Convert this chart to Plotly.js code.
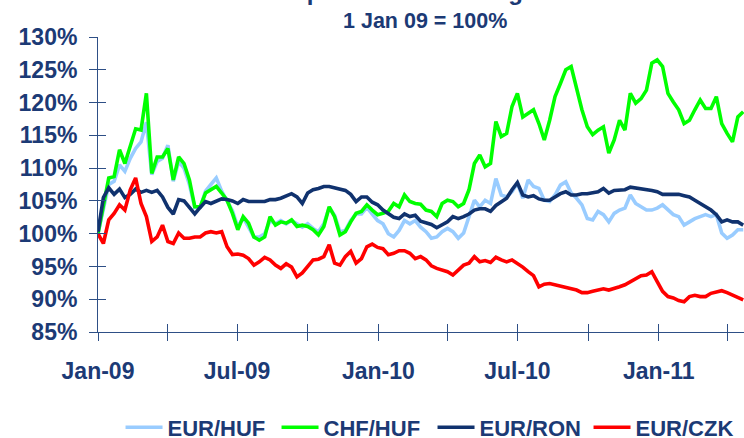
<!DOCTYPE html>
<html>
<head>
<meta charset="utf-8">
<script src="https://cdn.plot.ly/plotly-3.0.1.min.js"></script>
<style>html,body{margin:0;padding:0;background:#fff;}#chart{width:744px;height:438px;}</style>
</head>
<body>
<div id="chart"></div>
<script>
// Weekly observation dates (1 Jan 2009 = 100%)
const dates = [
'2009-01-01','2009-01-08','2009-01-15','2009-01-22','2009-01-29','2009-02-05','2009-02-12','2009-02-19','2009-02-26','2009-03-05',
'2009-03-12','2009-03-19','2009-03-26','2009-04-02','2009-04-09','2009-04-16','2009-04-23','2009-04-30','2009-05-07','2009-05-14',
'2009-05-21','2009-05-28','2009-06-04','2009-06-11','2009-06-18','2009-06-25','2009-07-02','2009-07-09','2009-07-16','2009-07-23',
'2009-07-30','2009-08-06','2009-08-13','2009-08-20','2009-08-27','2009-09-03','2009-09-10','2009-09-17','2009-09-24','2009-10-01',
'2009-10-08','2009-10-15','2009-10-22','2009-10-29','2009-11-05','2009-11-12','2009-11-19','2009-11-26','2009-12-03','2009-12-10',
'2009-12-17','2009-12-24','2009-12-31','2010-01-07','2010-01-14','2010-01-21','2010-01-28','2010-02-04','2010-02-11','2010-02-18',
'2010-02-25','2010-03-04','2010-03-11','2010-03-18','2010-03-25','2010-04-01','2010-04-08','2010-04-15','2010-04-22','2010-04-29',
'2010-05-06','2010-05-13','2010-05-20','2010-05-27','2010-06-03','2010-06-10','2010-06-17','2010-06-24','2010-07-01','2010-07-08',
'2010-07-15','2010-07-22','2010-07-29','2010-08-05','2010-08-12','2010-08-19','2010-08-26','2010-09-02','2010-09-09','2010-09-16',
'2010-09-23','2010-09-30','2010-10-07','2010-10-14','2010-10-21','2010-10-28','2010-11-04','2010-11-11','2010-11-18','2010-11-25',
'2010-12-02','2010-12-09','2010-12-16','2010-12-23','2010-12-30','2011-01-06','2011-01-13','2011-01-20','2011-01-27','2011-02-03',
'2011-02-10','2011-02-17','2011-02-24','2011-03-03','2011-03-10','2011-03-17','2011-03-24','2011-03-31','2011-04-07','2011-04-14',
'2011-04-21'];

const eurHuf = [
100.0,104.0,107.5,108.0,110.5,109.5,111.5,113.0,114.0,117.0,
109.0,111.0,111.5,113.5,108.0,111.0,110.0,107.5,104.0,104.0,
106.5,107.5,108.5,106.5,105.0,103.5,101.0,102.5,101.0,99.5,
99.5,100.0,102.0,101.5,102.0,101.5,102.0,101.5,101.0,101.5,
100.8,100.3,101.5,104.0,102.8,100.3,100.5,102.0,103.0,103.0,
104.0,103.0,102.0,101.5,100.0,99.5,100.5,102.0,101.5,102.0,
101.0,100.3,99.3,99.5,100.3,100.8,100.3,99.3,100.1,102.6,
105.1,104.1,105.1,104.6,108.4,105.9,105.6,106.4,107.7,105.4,
108.2,107.2,106.9,105.1,104.9,105.9,107.4,107.9,106.2,105.4,
104.4,102.3,102.1,103.4,102.9,101.8,103.1,103.6,103.9,105.9,
104.6,104.1,103.6,103.6,103.9,104.4,103.6,102.9,102.6,101.3,
101.8,102.3,102.6,102.9,102.6,102.9,100.1,99.3,99.8,100.6,
100.6];

const chfHuf = [
100.0,104.5,108.5,108.7,112.8,110.7,113.3,116.0,115.8,121.4,
109.2,111.7,111.7,113.0,108.2,111.7,110.7,108.2,104.1,104.1,
106.2,106.7,107.2,106.2,105.1,103.1,100.6,102.6,101.6,99.5,
99.0,99.5,102.6,101.3,101.8,101.6,102.1,101.1,101.3,101.1,
100.6,99.8,101.1,104.1,102.6,99.8,100.3,101.8,103.1,103.4,
104.4,103.6,102.9,103.1,103.4,104.6,104.1,105.9,104.9,104.6,
104.5,103.6,103.4,102.6,104.6,105.1,104.9,104.1,104.6,106.7,
110.7,112.0,110.2,110.7,117.1,114.8,115.3,119.4,121.4,117.8,
118.4,118.9,116.8,114.3,117.3,120.9,122.9,125.0,125.5,121.9,
118.9,116.3,115.1,115.8,116.3,112.3,114.3,117.3,115.8,121.4,
119.9,120.6,121.9,126.0,126.5,125.5,121.4,120.1,118.9,116.8,
117.3,118.9,120.4,119.1,119.1,120.9,116.8,115.3,114.0,117.8,
118.6];

const eurRon = [
100.3,105.5,107.0,106.0,106.8,105.5,106.0,106.8,106.3,106.6,
106.3,106.6,105.6,104.0,103.0,105.2,105.0,104.1,103.0,104.0,
104.9,104.6,104.9,105.3,105.2,105.0,104.6,105.2,104.9,104.9,
104.9,104.9,105.2,105.2,105.4,105.8,106.1,105.6,104.6,106.2,
106.7,106.9,107.2,107.2,107.0,106.9,106.6,106.0,104.9,105.6,
105.6,104.8,104.4,103.6,103.0,102.5,102.3,103.0,102.6,102.8,
101.9,101.7,101.4,100.9,101.3,101.8,102.6,102.3,102.6,103.0,
103.6,103.8,103.8,103.4,104.3,104.9,105.4,106.7,107.8,105.9,
105.6,105.8,105.3,105.1,105.1,105.6,106.1,106.4,105.9,105.9,
106.1,106.1,106.2,106.4,106.9,106.2,106.6,106.6,106.7,107.1,
107.0,106.9,106.8,106.6,106.4,106.0,106.0,106.0,106.0,105.8,
105.6,105.1,104.6,104.1,103.6,102.9,101.8,102.1,101.8,101.8,
101.3];

const eurCzk = [
100.0,98.5,102.1,103.1,104.4,103.6,106.7,108.5,104.6,102.6,
98.8,99.5,101.3,98.8,98.5,100.1,99.3,99.3,99.5,99.5,
100.1,100.3,100.1,100.3,98.0,96.8,96.9,96.7,96.2,95.2,
95.7,96.4,96.0,95.2,94.7,95.4,94.9,93.4,94.0,94.9,
96.0,96.1,96.5,98.3,95.5,95.2,96.5,97.3,95.5,96.2,
98.0,98.4,97.9,97.7,96.8,97.0,97.4,97.4,97.0,96.2,
96.5,96.0,95.1,94.7,94.4,94.2,93.7,94.4,95.2,95.5,
96.5,95.7,95.9,95.6,96.4,96.0,95.7,96.0,95.5,94.9,
94.2,93.6,91.9,92.3,92.4,92.2,92.0,91.8,91.7,91.4,
91.0,91.0,91.2,91.4,91.6,91.4,91.6,91.9,92.2,92.7,
93.2,93.6,93.7,94.2,92.7,91.2,90.4,90.2,89.8,89.6,
90.4,90.6,90.4,90.4,90.9,91.1,91.3,91.0,90.6,90.3,
89.9];

const seriesNames = ['EUR/HUF','CHF/HUF','EUR/RON','EUR/CZK'];
const seriesColors = ['#99CCFF','#00FF00','#10326E','#FF0000'];
const yTickVals = [85,90,95,100,105,110,115,120,125,130];
const yTickText = ['85%','90%','95%','100%','105%','110%','115%','120%','125%','130%'];
const xTickVals = ['2009-01-01','2009-04-01','2009-07-01','2009-10-01','2010-01-01','2010-04-01','2010-07-01','2010-10-01','2011-01-01','2011-04-01'];
const xTickText = ['Jan-09','','Jul-09','','Jan-10','','Jul-10','','Jan-11',''];
const xRange = ['2009-01-01','2011-04-22'];
const yRange = [85,130];

const navy = '#1C3A75';
const axisCol = '#2E4F86';
const fontFam = '"Liberation Sans", Arial, sans-serif';

const values = [eurHuf, chfHuf, eurRon, eurCzk];
const traces = values.map((v,i) => ({
  type:'scatter', mode:'lines', x:dates, y:v, name:seriesNames[i],
  line:{color:seriesColors[i], width:3.6}, hoverinfo:'skip'
}));
traces.push({type:'scatter', mode:'lines', x:[], y:[], xaxis:'x2', yaxis:'y2', showlegend:false, hoverinfo:'skip'});

const layout = {
  width:744, height:438,
  margin:{l:98, r:0, t:37, b:106, pad:0},
  paper_bgcolor:'#ffffff', plot_bgcolor:'#ffffff',
  font:{family:fontFam, color:navy},
  title:{text:'Spot rates in the region', font:{family:fontFam, size:24, weight:'bold', color:navy},
         x:0.571, xanchor:'center', xref:'container', y:1, yref:'container', yanchor:'bottom', pad:{b:0}},
  showlegend:true,
  legend:{orientation:'h', xref:'container', yref:'container', x:0.162, xanchor:'left', y:0.072, yanchor:'top',
          font:{family:fontFam, size:22, weight:'bold', color:navy}, itemwidth:37, entrywidth:104, entrywidthmode:'pixels',
          bgcolor:'rgba(0,0,0,0)', traceorder:'normal'},
  xaxis:{type:'date', range:xRange, tickmode:'array', tickvals:xTickVals, ticktext:xTickText,
         ticks:'outside', ticklen:8, tickwidth:1, tickcolor:axisCol,
         showline:true, linecolor:axisCol, linewidth:1, showgrid:false, zeroline:false,
         tickfont:{family:fontFam, size:23, weight:'bold', color:navy}, ticklabelstandoff:10, fixedrange:true},
  yaxis:{range:yRange, tickmode:'array', tickvals:yTickVals, ticktext:yTickText,
         ticks:'outside', ticklen:8, tickwidth:1, tickcolor:axisCol,
         showline:true, linecolor:axisCol, linewidth:1, showgrid:false, zeroline:false,
         tickfont:{family:fontFam, size:23, weight:'bold', color:navy}, ticklabelstandoff:7, fixedrange:true},
  xaxis2:{type:'date', overlaying:'x', anchor:'y', side:'bottom', range:xRange, tickmode:'array', tickvals:xTickVals,
          ticks:'inside', ticklen:8, tickwidth:1, tickcolor:axisCol, showticklabels:false,
          showline:false, showgrid:false, zeroline:false, fixedrange:true},
  yaxis2:{overlaying:'y', anchor:'x', side:'left', range:yRange, tickmode:'array', tickvals:yTickVals,
          ticks:'inside', ticklen:8, tickwidth:1, tickcolor:axisCol, showticklabels:false,
          showline:false, showgrid:false, zeroline:false, fixedrange:true},
  annotations:[{text:'1 Jan 09 = 100%', xref:'paper', yref:'paper', x:0.506, y:1.055, xanchor:'center', yanchor:'middle',
                showarrow:false, font:{family:fontFam, size:21.5, weight:'bold', color:navy}}]
};

Plotly.newPlot('chart', traces, layout, {displayModeBar:false, staticPlot:true});
</script>
</body>
</html>
